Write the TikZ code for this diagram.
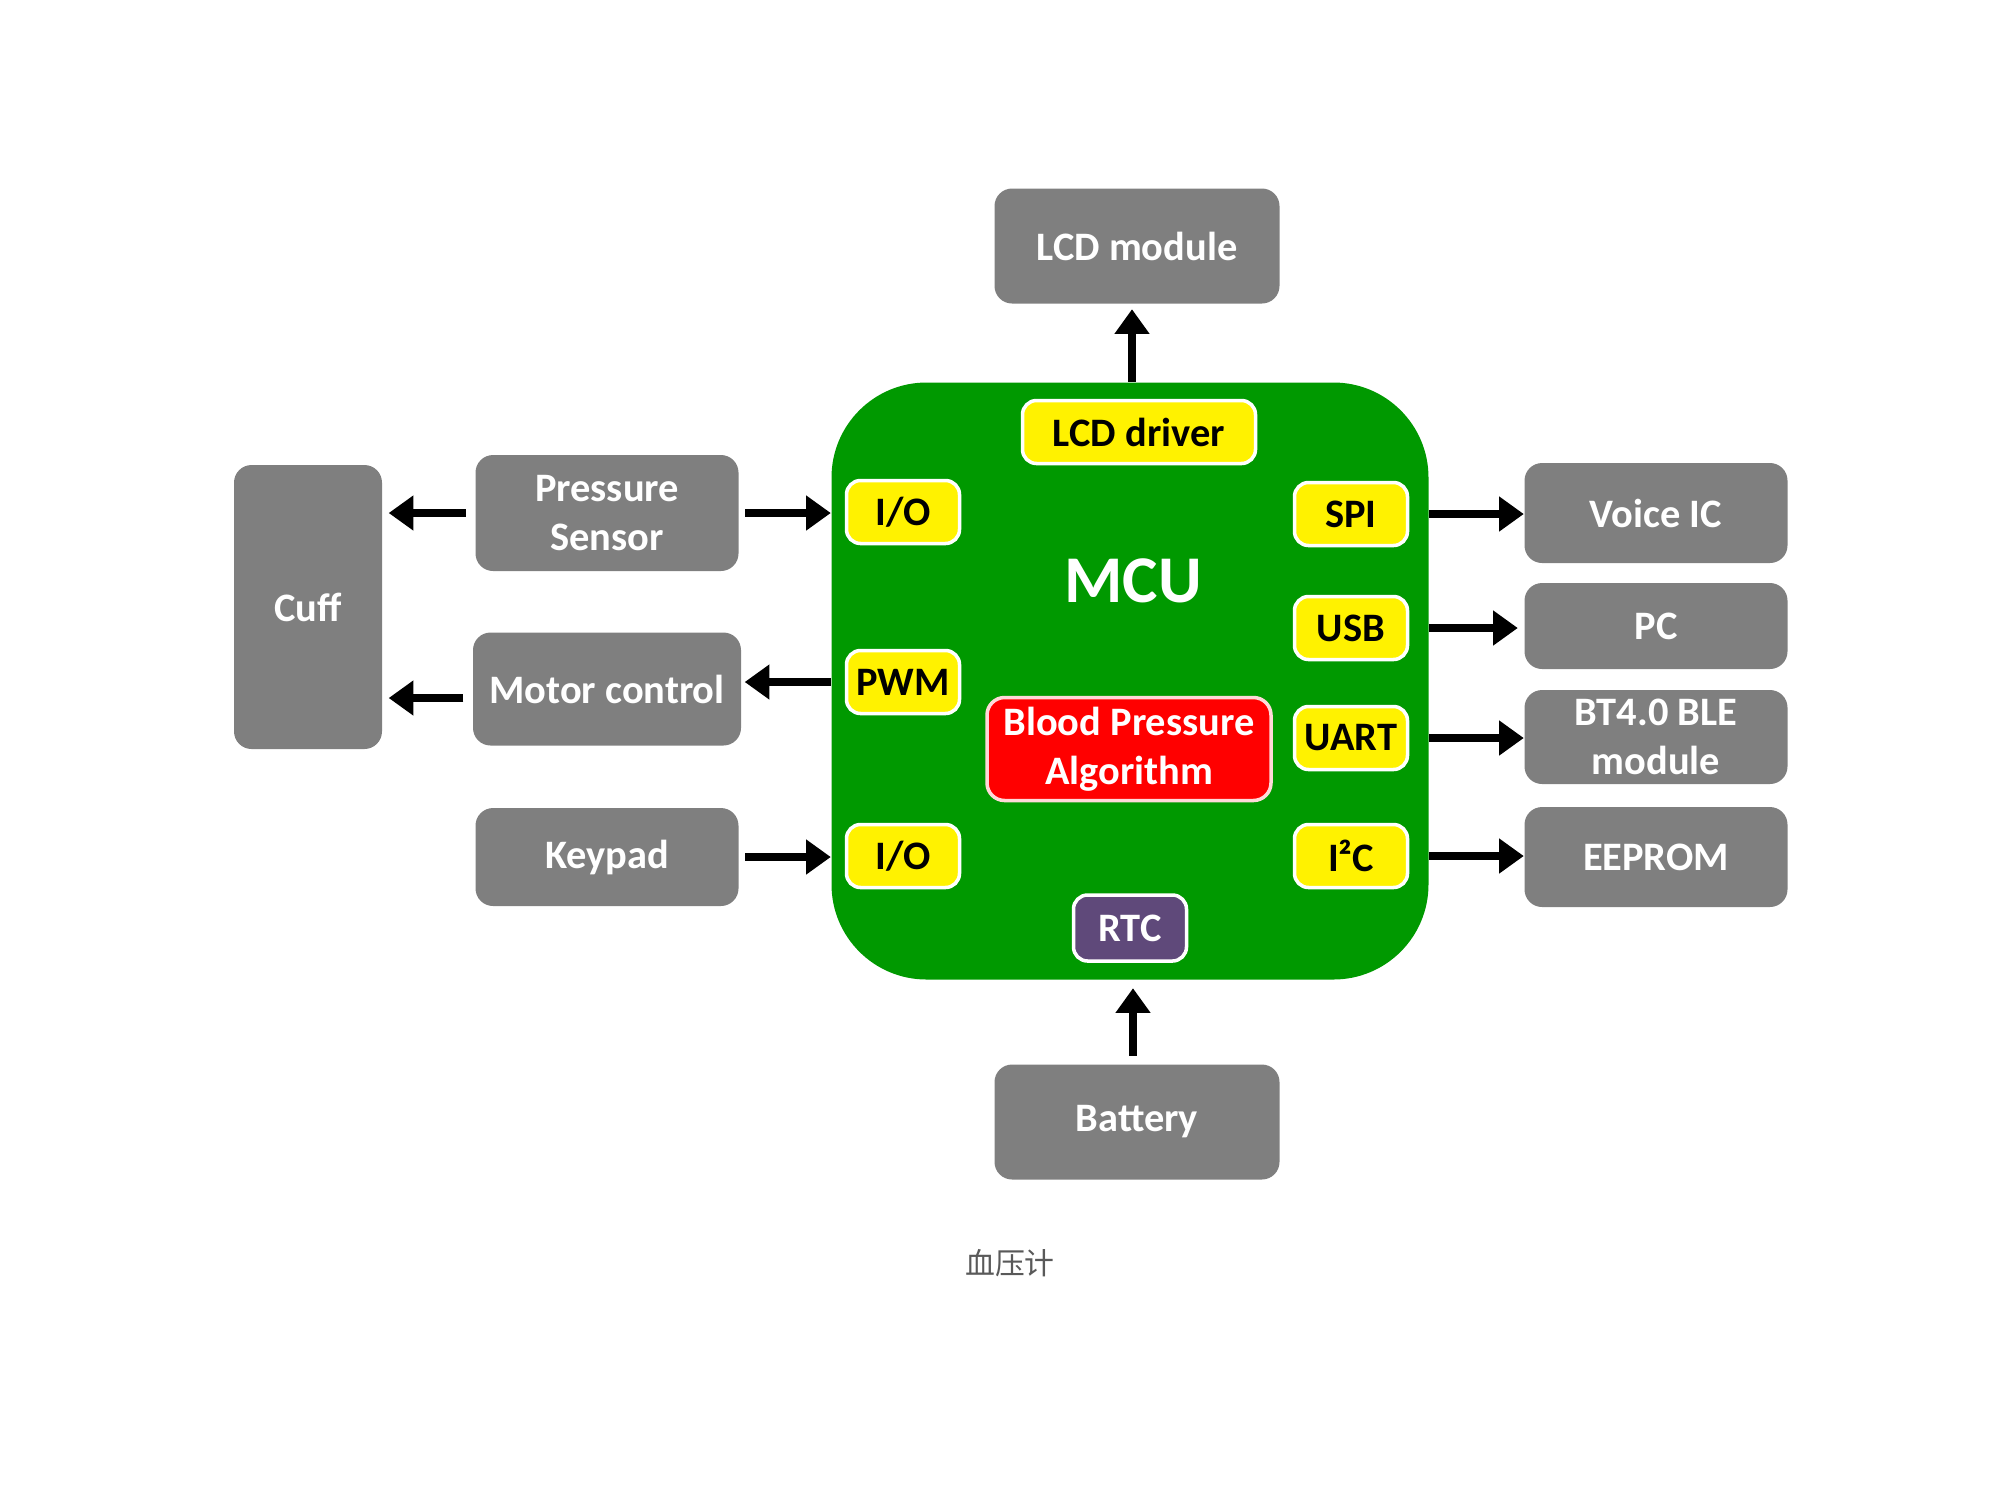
\documentclass[tikz,border=0pt]{standalone}
\usepackage{fontspec}
\setmainfont{Carlito}
\newfontfamily\cjk{Noto Sans CJK SC}
\usetikzlibrary{arrows.meta, positioning}

\definecolor{boxgray}{HTML}{7F7F7F}
\definecolor{mcugreen}{HTML}{009900}
\definecolor{rtcpurple}{HTML}{5F497A}
\definecolor{capgray}{HTML}{595959}

\begin{document}
\begin{tikzpicture}[>={Triangle[length=7pt,width=9.5pt]}]
          \tikzstyle{box}=[rectangle, rounded corners=5pt, fill=boxgray, text=white, align=center, inner sep=1pt, font=\bfseries\fontsize{11.5}{14}\selectfont]
          \tikzstyle{port}=[rectangle, rounded corners=4pt, fill=yellow, draw=white, line width=1pt, inner sep=1pt, minimum width=1.13cm, minimum height=0.63cm, font=\bfseries\fontsize{11.5}{14}\selectfont]
          \tikzstyle{mcu}=[rectangle, rounded corners=0.95cm, fill=mcugreen, minimum width=5.97cm, minimum height=5.97cm]
          \tikzstyle{algo}=[rectangle, rounded corners=5pt, fill=red, draw=white!85!red, line width=1pt, text=white, align=center, inner sep=1pt, minimum width=2.84cm, minimum height=1.03cm, font=\bfseries\fontsize{11.5}{14}\selectfont]
          \tikzstyle{rtc}=[rectangle, rounded corners=4pt, fill=rtcpurple, draw=white, line width=1pt, text=white, inner sep=1pt, minimum width=1.13cm, minimum height=0.66cm, font=\bfseries\fontsize{11.5}{14}\selectfont]
          \tikzstyle{wire}=[->, line width=2.3pt]

          \useasboundingbox (0,0) rectangle (20,-15);

          % MCU and its ports
          \node[mcu] at (11.30,-6.81) (mcu) {};
          \node[port, minimum width=2.33cm] at (11.39,-4.32) (drv) {LCD driver};
          \node[port] at (9.03,-5.12) (io1) {I/O};
          \node[port] at (9.03,-6.82) (pwm) {PWM};
          \node[port] at (9.03,-8.56) (io2) {I/O};
          \node[port] at (13.51,-5.14) (spi) {SPI};
          \node[port] at (13.51,-6.28) (usb) {USB};
          \node[port] at (13.51,-7.38) (uart) {UART};
          \node[port] at (13.51,-8.56) (iic) {I²C};
          \node[text=white, font=\bfseries\fontsize{19}{22}\selectfont] at (11.33,-5.81) (mcutext) {MCU};
          \node[algo] at (11.29,-7.49) (algo) {Blood Pressure\\Algorithm};
          \node[rtc] at (11.30,-9.28) (rtc) {RTC};

          % outside blocks
          \node[box, minimum width=2.85cm, minimum height=1.15cm] at (11.37,-2.46) (lcd) {LCD module};
          \node[box, minimum width=2.85cm, minimum height=1.15cm] at (11.37,-11.22) (bat) {Battery};
          \node[box, minimum width=1.48cm, minimum height=2.84cm] at (3.08,-6.07) (cuff) {Cuff};
          \node[box, minimum width=2.63cm, minimum height=1.16cm] at (6.07,-5.13) (ps) {Pressure\\Sensor};
          \node[box, minimum width=2.68cm, minimum height=1.13cm] at (6.07,-6.89) (motor) {Motor control};
          \node[box, minimum width=2.63cm, minimum height=0.98cm] at (6.07,-8.57) (key) {Keypad};
          \node[box, minimum width=2.63cm, minimum height=1.0cm] at (16.56,-5.13) (voice) {Voice IC};
          \node[box, minimum width=2.63cm, minimum height=0.86cm] at (16.56,-6.26) (pc) {PC};
          \node[box, minimum width=2.63cm, minimum height=0.94cm] at (16.56,-7.37) (ble) {BT4.0 BLE\\module};
          \node[box, minimum width=2.63cm, minimum height=1.0cm] at (16.56,-8.57) (eeprom) {EEPROM};

          \node[text=capgray, font=\cjk\fontsize{8.5}{10}\selectfont] at (10.10,-12.63) (caption) {血压计};

          % connections
          \draw[wire, shorten >=0.05cm] ([xshift=0.02cm]mcu.north) -- ([xshift=0.02cm]mcu.north |- lcd.south);
          \draw[wire, shorten <=0.08cm, shorten >=0.08cm] ([xshift=0.03cm]mcu.south |- bat.north) -- ([xshift=0.03cm]mcu.south);
          \draw[wire, shorten <=0.09cm, shorten >=0.06cm] (ps.west) -- (ps.west -| cuff.east);
          \draw[wire, shorten <=0.09cm, shorten >=0.06cm] ([yshift=-0.09cm]motor.west) -- ([yshift=-0.09cm]motor.west -| cuff.east);
          \draw[wire, shorten <=0.06cm] (ps.east) -- (ps.east -| mcu.west);
          \draw[wire, shorten >=0.03cm] (pwm.west -| mcu.west) -- (pwm.west -| motor.east);
          \draw[wire, shorten <=0.06cm] (key.east) -- (key.east -| mcu.west);
          \draw[wire] (spi.east -| mcu.east) -- (spi.east -| voice.west);
          \draw[wire, shorten >=0.06cm] (usb.east -| mcu.east) -- (usb.east -| pc.west);
          \draw[wire] (uart.east -| mcu.east) -- (uart.east -| ble.west);
          \draw[wire] (iic.east -| mcu.east) -- (iic.east -| eeprom.west);

        \end{tikzpicture}
\end{document}
